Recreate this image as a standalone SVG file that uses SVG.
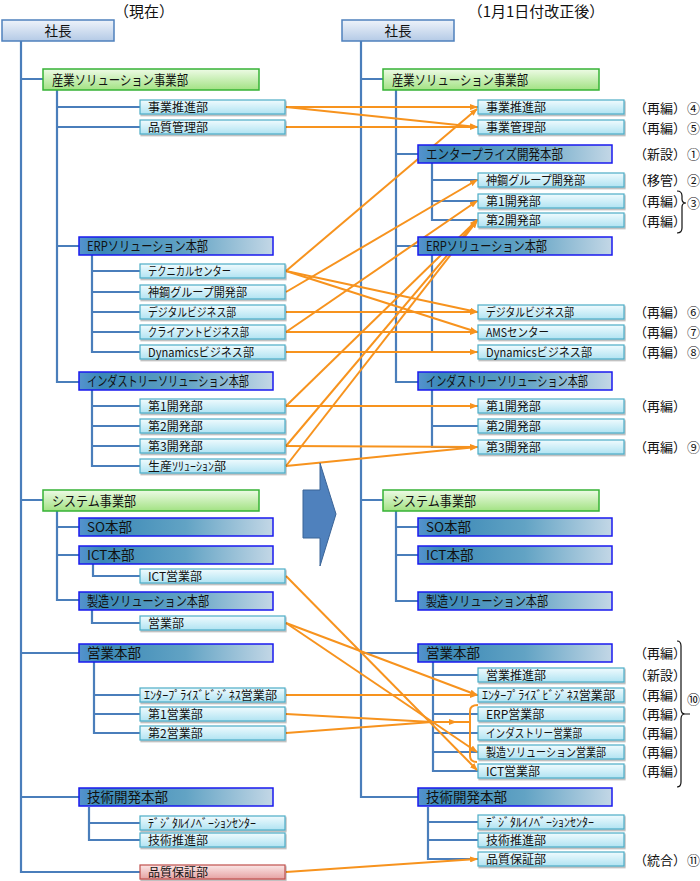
<svg xmlns="http://www.w3.org/2000/svg" width="700" height="881" viewBox="0 0 700 881">
<defs>
<linearGradient id="gSc" x1="0" y1="0" x2="0" y2="1"><stop offset="0" stop-color="#eef3fa"/><stop offset="1" stop-color="#b4cae6"/></linearGradient>
<linearGradient id="gJg" x1="0" y1="0" x2="0" y2="1"><stop offset="0" stop-color="#eefbe6"/><stop offset="1" stop-color="#a2e283"/></linearGradient>
<linearGradient id="gHb" x1="0" y1="0" x2="1" y2="0"><stop offset="0" stop-color="#5593cf"/><stop offset="0.12" stop-color="#3a88b6"/><stop offset="0.55" stop-color="#62a3c4"/><stop offset="1" stop-color="#c3d7e6"/></linearGradient>
<linearGradient id="gBu" x1="0" y1="0" x2="0" y2="1"><stop offset="0" stop-color="#f0fbfe"/><stop offset="1" stop-color="#b0e3f2"/></linearGradient>
<linearGradient id="gRd" x1="0" y1="0" x2="0" y2="1"><stop offset="0" stop-color="#fbe6e6"/><stop offset="1" stop-color="#e6a2a2"/></linearGradient>
<filter id="sh" x="-5%" y="-20%" width="110%" height="150%"><feDropShadow dx="1" dy="1.5" stdDeviation="0.7" flood-color="#000" flood-opacity="0.3"/></filter>
<marker id="ah" viewBox="0 0 8 6" refX="7" refY="3" markerWidth="8" markerHeight="6" markerUnits="userSpaceOnUse" orient="auto"><path d="M0,0 L8,3 L0,6 z" fill="#f7931e"/></marker>
<style>
text{font-family:"Noto Sans CJK JP","Noto Sans",sans-serif;fill:#111}
.sc rect{fill:url(#gSc);stroke:#4f81bd;stroke-width:1.5}
.jg rect{fill:url(#gJg);stroke:#36b336;stroke-width:1.5}
.hb rect{fill:url(#gHb);stroke:#1a1aee;stroke-width:1.5}
.bu rect{fill:url(#gBu);stroke:#4bacc6;stroke-width:1.2;filter:url(#sh)}
.rd rect{fill:url(#gRd);stroke:#c0504d;stroke-width:1.2;filter:url(#sh)}
.sc text,.jg text,.hb text{font-size:13.5px}
.bu text,.rd text{font-size:12px}
.ann{font-size:13px}
.num{font-size:13px}
.ttl{font-size:15px}
.bl{fill:none;stroke:#4a7ebb;stroke-width:2.2}
.or{fill:none;stroke:#f7931e;stroke-width:2}
.or.a{marker-end:url(#ah)}
.br{fill:none;stroke:#111;stroke-width:1.2}
</style>
</defs>
<rect width="700" height="881" fill="#fff"/>

<text class="ttl" x="144" y="17" text-anchor="middle">（現在）</text>
<text class="ttl" x="536" y="17" text-anchor="middle">（1月1日付改正後）</text>

<g id="connectors">
<path class="bl" d="M21,41 V872 H140 M21,79 H43 M21,500 H43 M21,653 H79 M21,797 H79
M57,90 V382 H79 M57,107 H140 M57,127 H140 M57,246 H79
M92,255 V352 H140 M92,271 H140 M92,292 H140 M92,312 H140 M92,332 H140
M92,390 V466 H140 M92,406 H140 M92,426 H140 M92,446 H140
M57,511 V600 H79 M57,527 H79 M57,555 H79
M93,564 V576 H140 M92,610 V623 H140
M94,662 V733 H140 M94,695 H140 M94,714 H140
M89,807 V840 H140 M89,823 H140"/>
<path class="bl" d="M361,41 V797 H418 M361,79 H383 M361,500 H383 M361,653 H418
M396,90 V382 H418 M396,107 H478 M396,127 H478 M396,154 H418 M396,246 H418
M432,163 V220 H478 M432,180 H478 M432,201 H478
M432,255 V352 H478 M432,312 H478 M432,332 H478
M432,390 V447 H478 M432,406 H478 M432,426 H478
M396,511 V601 H418 M396,527 H418 M396,555 H418
M433,662 V771 H478 M433,675 H478 M433,695 H478 M433,714 H478 M433,733 H478 M433,752 H478
M428,807 V859 H478 M428,822 H478 M428,840 H478"/>
<line class="or a" x1="286" y1="107" x2="477" y2="107"/>
<line class="or a" x1="286" y1="107" x2="477" y2="127"/>
<line class="or a" x1="286" y1="127" x2="477" y2="127"/>
<line class="or a" x1="286" y1="271" x2="477" y2="109"/>
<line class="or a" x1="286" y1="292" x2="477" y2="180"/>
<line class="or a" x1="286" y1="332" x2="477" y2="201"/>
<line class="or a" x1="286" y1="406" x2="477" y2="220"/>
<line class="or a" x1="286" y1="446" x2="477" y2="220"/>
<line class="or a" x1="286" y1="466" x2="477" y2="221"/>
<line class="or a" x1="286" y1="271" x2="477" y2="312"/>
<line class="or a" x1="286" y1="271" x2="477" y2="332"/>
<line class="or a" x1="286" y1="312" x2="477" y2="312"/>
<line class="or a" x1="286" y1="332" x2="477" y2="332"/>
<line class="or a" x1="286" y1="352" x2="477" y2="352"/>
<line class="or a" x1="286" y1="406" x2="477" y2="406"/>
<line class="or a" x1="286" y1="446" x2="477" y2="447"/>
<line class="or a" x1="286" y1="466" x2="477" y2="447"/>
<line class="or a" x1="286" y1="576" x2="477" y2="770"/>
<line class="or a" x1="286" y1="623" x2="477" y2="695"/>
<line class="or a" x1="286" y1="623" x2="477" y2="752"/>
<line class="or a" x1="286" y1="695" x2="477" y2="695"/>
<line class="or" x1="286" y1="714" x2="432" y2="722"/>
<line class="or" x1="286" y1="733" x2="432" y2="722"/>
<line class="or a" x1="432" y1="722" x2="456" y2="722"/>
<line class="or" x1="455" y1="722" x2="470" y2="722"/>
<path class="or" d="M478,705 Q470,705 470,711 L470,756 Q470,762 477,762"/>
<line class="or a" x1="286" y1="872" x2="477" y2="859"/>
</g>

<g id="bigArrow"><polygon points="303,490 320,490 320,463 336,514 320,566 320,538 303,538" fill="#4f81bd" stroke="#3b6497" stroke-width="1"/></g>

<!-- left -->
<g id="L_shacho" class="sc"><rect x="2" y="20" width="112" height="21"/><text x="58" y="35.5" text-anchor="middle">社長</text></g>
<g id="L_sangyo" class="jg"><rect x="43" y="69" width="216" height="21"/><text x="52" y="84.5" textLength="136" lengthAdjust="spacingAndGlyphs">産業ソリューション事業部</text></g>
<g id="L_jigyosuishin" class="bu"><rect x="140" y="100" width="145" height="14"/><text x="148" y="111.5">事業推進部</text></g>
<g id="L_hinshitsukanri" class="bu"><rect x="140" y="120" width="145" height="14"/><text x="148" y="131.5">品質管理部</text></g>
<g id="L_erp" class="hb"><rect x="79" y="237" width="194" height="18"/><text x="87" y="251.2" textLength="121" lengthAdjust="spacingAndGlyphs">ERPソリューション本部</text></g>
<g id="L_technical" class="bu"><rect x="140" y="264" width="145" height="14"/><text x="148" y="275.5" textLength="83" lengthAdjust="spacingAndGlyphs">テクニカルセンター</text></g>
<g id="L_shinko" class="bu"><rect x="140" y="285" width="145" height="14"/><text x="148" y="296.5" textLength="99" lengthAdjust="spacingAndGlyphs">神鋼グループ開発部</text></g>
<g id="L_digital" class="bu"><rect x="140" y="305" width="145" height="14"/><text x="148" y="316.5" textLength="88" lengthAdjust="spacingAndGlyphs">デジタルビジネス部</text></g>
<g id="L_client" class="bu"><rect x="140" y="325" width="145" height="14"/><text x="148" y="336.5" textLength="101" lengthAdjust="spacingAndGlyphs">クライアントビジネス部</text></g>
<g id="L_dynamics" class="bu"><rect x="140" y="345" width="145" height="14"/><text x="148" y="356.5" textLength="106" lengthAdjust="spacingAndGlyphs">Dynamicsビジネス部</text></g>
<g id="L_industry" class="hb"><rect x="79" y="372" width="194" height="18"/><text x="87" y="386.2" textLength="162" lengthAdjust="spacingAndGlyphs">インダストリーソリューション本部</text></g>
<g id="L_dev1" class="bu"><rect x="140" y="399" width="145" height="14"/><text x="148" y="410.5">第1開発部</text></g>
<g id="L_dev2" class="bu"><rect x="140" y="419" width="145" height="14"/><text x="148" y="430.5">第2開発部</text></g>
<g id="L_dev3" class="bu"><rect x="140" y="439" width="145" height="14"/><text x="148" y="450.5">第3開発部</text></g>
<g id="L_seisan" class="bu"><rect x="140" y="459" width="145" height="14"/><text x="148" y="470.5">生産ｿﾘｭｰｼｮﾝ部</text></g>
<g id="L_system" class="jg"><rect x="43" y="490" width="216" height="21"/><text x="52" y="505.5" textLength="84" lengthAdjust="spacingAndGlyphs">システム事業部</text></g>
<g id="L_so" class="hb"><rect x="79" y="518" width="194" height="18"/><text x="87" y="532.2">SO本部</text></g>
<g id="L_ict" class="hb"><rect x="79" y="546" width="194" height="18"/><text x="87" y="560.2">ICT本部</text></g>
<g id="L_ictsales" class="bu"><rect x="140" y="569" width="145" height="14"/><text x="148" y="580.5">ICT営業部</text></g>
<g id="L_seizo" class="hb"><rect x="79" y="592" width="194" height="18"/><text x="87" y="606.2" textLength="122" lengthAdjust="spacingAndGlyphs">製造ソリューション本部</text></g>
<g id="L_sales" class="bu"><rect x="140" y="616" width="145" height="14"/><text x="148" y="627.5">営業部</text></g>
<g id="L_eigyohonbu" class="hb"><rect x="79" y="644" width="194" height="18"/><text x="87" y="658.2">営業本部</text></g>
<g id="L_entsales" class="bu"><rect x="140" y="688" width="145" height="14"/><text x="144" y="699.5" textLength="133" lengthAdjust="spacingAndGlyphs">ｴﾝﾀｰﾌﾟﾗｲｽﾞﾋﾞｼﾞﾈｽ営業部</text></g>
<g id="L_sales1" class="bu"><rect x="140" y="707" width="145" height="14"/><text x="148" y="718.5">第1営業部</text></g>
<g id="L_sales2" class="bu"><rect x="140" y="726" width="145" height="14"/><text x="148" y="737.5">第2営業部</text></g>
<g id="L_gijutsu" class="hb"><rect x="79" y="788" width="194" height="18"/><text x="87" y="802.2">技術開発本部</text></g>
<g id="L_digiinno" class="bu"><rect x="140" y="816" width="145" height="14"/><text x="148" y="827.5">ﾃﾞｼﾞﾀﾙｲﾉﾍﾞｰｼｮﾝｾﾝﾀｰ</text></g>
<g id="L_gijutsusuishin" class="bu"><rect x="140" y="833" width="145" height="14"/><text x="148" y="844.5">技術推進部</text></g>
<g id="L_qa" class="rd"><rect x="140" y="865" width="145" height="14"/><text x="148" y="876.5">品質保証部</text></g>

<!-- right -->
<g id="R_shacho" class="sc"><rect x="342" y="20" width="112" height="21"/><text x="398" y="35.5" text-anchor="middle">社長</text></g>
<g id="R_sangyo" class="jg"><rect x="383" y="69" width="216" height="21"/><text x="392" y="84.5" textLength="136" lengthAdjust="spacingAndGlyphs">産業ソリューション事業部</text></g>
<g id="R_jigyosuishin" class="bu"><rect x="478" y="100" width="146" height="14"/><text x="486" y="111.5">事業推進部</text></g>
<g id="R_jigyokanri" class="bu"><rect x="478" y="120" width="146" height="14"/><text x="486" y="131.5">事業管理部</text></g>
<g id="R_ent" class="hb"><rect x="418" y="145" width="194" height="18"/><text x="426" y="159.2" textLength="137" lengthAdjust="spacingAndGlyphs">エンタープライズ開発本部</text></g>
<g id="R_shinko" class="bu"><rect x="478" y="173" width="146" height="14"/><text x="486" y="184.5" textLength="99" lengthAdjust="spacingAndGlyphs">神鋼グループ開発部</text></g>
<g id="R_dev1e" class="bu"><rect x="478" y="194" width="146" height="14"/><text x="486" y="205.5">第1開発部</text></g>
<g id="R_dev2e" class="bu"><rect x="478" y="213" width="146" height="14"/><text x="486" y="224.5">第2開発部</text></g>
<g id="R_erp" class="hb"><rect x="418" y="237" width="194" height="18"/><text x="426" y="251.2" textLength="121" lengthAdjust="spacingAndGlyphs">ERPソリューション本部</text></g>
<g id="R_digital" class="bu"><rect x="478" y="305" width="146" height="14"/><text x="486" y="316.5" textLength="88" lengthAdjust="spacingAndGlyphs">デジタルビジネス部</text></g>
<g id="R_ams" class="bu"><rect x="478" y="325" width="146" height="14"/><text x="486" y="336.5" textLength="63" lengthAdjust="spacingAndGlyphs">AMSセンター</text></g>
<g id="R_dynamics" class="bu"><rect x="478" y="345" width="146" height="14"/><text x="486" y="356.5" textLength="106" lengthAdjust="spacingAndGlyphs">Dynamicsビジネス部</text></g>
<g id="R_industry" class="hb"><rect x="418" y="372" width="194" height="18"/><text x="426" y="386.2" textLength="162" lengthAdjust="spacingAndGlyphs">インダストリーソリューション本部</text></g>
<g id="R_dev1" class="bu"><rect x="478" y="399" width="146" height="14"/><text x="486" y="410.5">第1開発部</text></g>
<g id="R_dev2" class="bu"><rect x="478" y="419" width="146" height="14"/><text x="486" y="430.5">第2開発部</text></g>
<g id="R_dev3" class="bu"><rect x="478" y="440" width="146" height="14"/><text x="486" y="451.5">第3開発部</text></g>
<g id="R_system" class="jg"><rect x="383" y="490" width="216" height="21"/><text x="392" y="505.5" textLength="84" lengthAdjust="spacingAndGlyphs">システム事業部</text></g>
<g id="R_so" class="hb"><rect x="418" y="518" width="194" height="18"/><text x="426" y="532.2">SO本部</text></g>
<g id="R_ict" class="hb"><rect x="418" y="546" width="194" height="18"/><text x="426" y="560.2">ICT本部</text></g>
<g id="R_seizo" class="hb"><rect x="418" y="592" width="194" height="18"/><text x="426" y="606.2" textLength="122" lengthAdjust="spacingAndGlyphs">製造ソリューション本部</text></g>
<g id="R_eigyohonbu" class="hb"><rect x="418" y="644" width="194" height="18"/><text x="426" y="658.2">営業本部</text></g>
<g id="R_eigyosuishin" class="bu"><rect x="478" y="668" width="146" height="14"/><text x="486" y="679.5">営業推進部</text></g>
<g id="R_entsales" class="bu"><rect x="478" y="688" width="146" height="14"/><text x="482" y="699.5" textLength="133" lengthAdjust="spacingAndGlyphs">ｴﾝﾀｰﾌﾟﾗｲｽﾞﾋﾞｼﾞﾈｽ営業部</text></g>
<g id="R_erpsales" class="bu"><rect x="478" y="707" width="146" height="14"/><text x="486" y="718.5">ERP営業部</text></g>
<g id="R_indsales" class="bu"><rect x="478" y="726" width="146" height="14"/><text x="486" y="737.5" textLength="96" lengthAdjust="spacingAndGlyphs">インダストリー営業部</text></g>
<g id="R_seizosales" class="bu"><rect x="478" y="745" width="146" height="14"/><text x="486" y="756.5" textLength="120" lengthAdjust="spacingAndGlyphs">製造ソリューション営業部</text></g>
<g id="R_ictsales" class="bu"><rect x="478" y="764" width="146" height="14"/><text x="486" y="775.5">ICT営業部</text></g>
<g id="R_gijutsu" class="hb"><rect x="418" y="788" width="194" height="18"/><text x="426" y="802.2">技術開発本部</text></g>
<g id="R_digiinno" class="bu"><rect x="478" y="815" width="146" height="14"/><text x="486" y="826.5">ﾃﾞｼﾞﾀﾙｲﾉﾍﾞｰｼｮﾝｾﾝﾀｰ</text></g>
<g id="R_gijutsusuishin" class="bu"><rect x="478" y="833" width="146" height="14"/><text x="486" y="844.5">技術推進部</text></g>
<g id="R_qa" class="bu"><rect x="478" y="852" width="146" height="14"/><text x="486" y="863.5">品質保証部</text></g>

<g id="annotations">
<text class="ann" x="634" y="113">（再編）</text><text class="num" x="687" y="113">④</text>
<text class="ann" x="634" y="133">（再編）</text><text class="num" x="687" y="133">⑤</text>
<text class="ann" x="634" y="159">（新設）</text><text class="num" x="687" y="159">①</text>
<text class="ann" x="634" y="185">（移管）</text><text class="num" x="687" y="185">②</text>
<text class="ann" x="634" y="206">（再編）</text>
<text class="ann" x="634" y="226">（再編）</text>
<text class="num" x="687" y="208">③</text>
<path class="br" d="M677,191 Q682,191 682,196 L682,199 Q682,203 686,203 Q682,203 682,207 L682,228 Q682,233 677,233"/>
<text class="ann" x="634" y="317">（再編）</text><text class="num" x="687" y="317">⑥</text>
<text class="ann" x="634" y="337">（再編）</text><text class="num" x="687" y="337">⑦</text>
<text class="ann" x="634" y="357">（再編）</text><text class="num" x="687" y="357">⑧</text>
<text class="ann" x="634" y="411">（再編）</text>
<text class="ann" x="634" y="452">（再編）</text><text class="num" x="687" y="452">⑨</text>
<text class="ann" x="634" y="658">（再編）</text>
<text class="ann" x="634" y="680">（新設）</text>
<text class="ann" x="634" y="700">（再編）</text>
<text class="ann" x="634" y="719">（再編）</text>
<text class="ann" x="634" y="738">（再編）</text>
<text class="ann" x="634" y="757">（再編）</text>
<text class="ann" x="634" y="776">（再編）</text>
<text class="num" x="687" y="704">⑩</text>
<path class="br" d="M677,641 Q681,641 681,646 L681,709 Q681,714 685,714 L690,714 M685,714 Q681,714 681,719 L681,782 Q681,787 677,787"/>
<text class="ann" x="634" y="865">（統合）</text><text class="num" x="687" y="865">⑪</text>
</g>
</svg>
